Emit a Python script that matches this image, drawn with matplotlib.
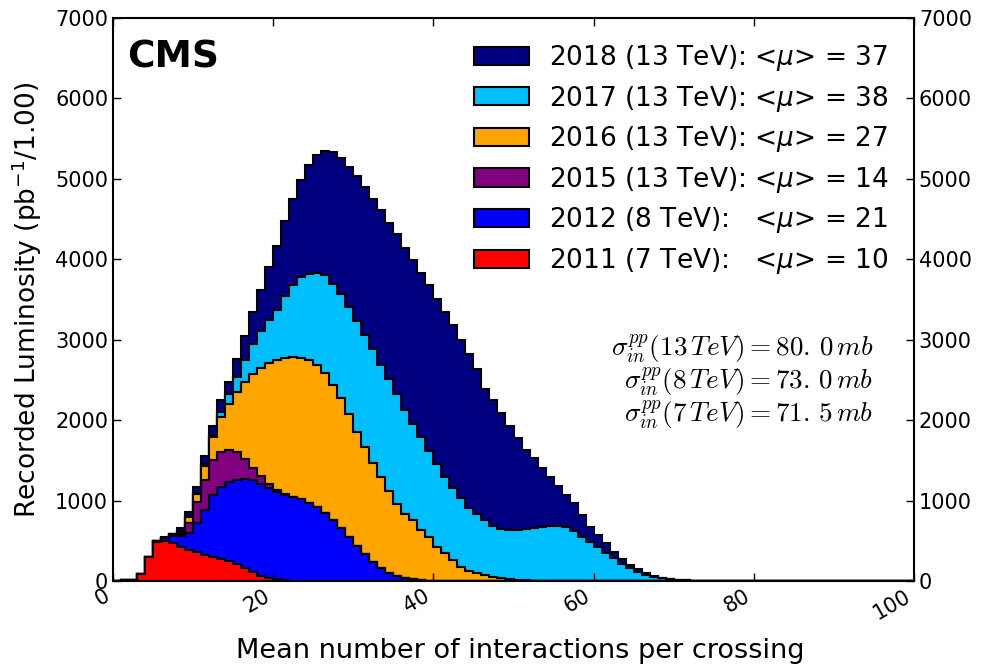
import numpy as np
import matplotlib
matplotlib.use("Agg")
from matplotlib import pyplot as plt

# recorded luminosity per pileup bin (pb^-1), bins of width 1 starting at 0
lumi_2011 = [0, 8, 15, 90, 300, 490, 500, 468, 427, 385, 365, 327, 302, 273, 244, 211,
             162, 109, 68, 41, 21, 10, 5, 2]
lumi_2012 = [0, 0, 0, 0, 0, 10, 30, 97, 133, 208, 352, 556, 767, 900, 991, 1045, 1102,
             1141, 1138, 1111, 1090, 1059, 1035, 1013, 974, 924, 849, 758, 655, 543, 435,
             336, 240, 158, 95, 62, 33, 20, 10, 5, 2]
lumi_2015 = [0, 0, 0, 0, 0, 0, 5, 10, 30, 124, 269, 373, 435, 435, 390, 344, 256, 160,
             94, 48, 19, 11, 5, 3, 2, 1]
lumi_2016 = [0, 0, 0, 0, 0, 0, 5, 5, 25, 83, 99, 174, 283, 427, 575, 750, 950, 1160,
             1350, 1510, 1620, 1697, 1744, 1755, 1770, 1761, 1734, 1680, 1617, 1534, 1423,
             1327, 1224, 1132, 1030, 900, 805, 735, 625, 548, 427, 354, 263, 180, 125, 95,
             70, 52, 38, 27, 18, 11, 6, 3, 1]
lumi_2017 = [0, 0, 0, 0, 0, 0, 0, 2, 10, 5, 10, 20, 28, 70, 130, 190, 280, 380, 460, 540,
             619, 766, 891, 1011, 1076, 1147, 1218, 1254, 1296, 1333, 1378, 1396, 1416,
             1396, 1382, 1366, 1292, 1192, 1151, 1063, 1026, 943, 889, 848, 780, 735, 688,
             632, 605, 607, 616, 632, 649, 672, 687, 688, 668, 626, 551, 489, 419, 344, 282,
             211, 158, 116, 75, 54, 33, 20, 12, 7, 4, 2, 1]
lumi_2018 = [0, 0, 0, 0, 0, 0, 10, 8, 38, 49, 70, 104, 116, 145, 140, 220, 300, 390, 510,
             650, 791, 937, 1066, 1202, 1355, 1464, 1545, 1638, 1687, 1742, 1800, 1836,
             1870, 1923, 1948, 1989, 2014, 2039, 2046, 2064, 2047, 2052, 2031, 1968, 1914,
             1810, 1625, 1566, 1450, 1293, 1140, 986, 870, 726, 601, 493, 401, 340, 270,
             186, 153, 125, 82, 59, 41, 29, 21, 8, 8, 5, 2, 2, 2, 2, 2, 2, 1, 1, 1]

labels = ['2011 (7 TeV):   <$\\mu$> = 10',
          '2012 (8 TeV):   <$\\mu$> = 21',
          '2015 (13 TeV): <$\\mu$> = 14',
          '2016 (13 TeV): <$\\mu$> = 27',
          '2017 (13 TeV): <$\\mu$> = 38',
          '2018 (13 TeV): <$\\mu$> = 37']
colors = ['#ff0000', '#0000ff', '#800080', '#ffa500', '#00bfff', '#000080']
xsec_lines = [r'$\sigma^{pp}_{in}(13\,TeV) = 80.\,0\,mb$',
              r'$\sigma^{pp}_{in}(8\,TeV) = 73.\,0\,mb$',
              r'$\sigma^{pp}_{in}(7\,TeV) = 71.\,5\,mb$']

nbins = 100
edges = np.arange(0, nbins + 1)
centers = edges[:-1] + 0.5
series = [lumi_2011, lumi_2012, lumi_2015, lumi_2016, lumi_2017, lumi_2018]
weights = [np.pad(np.array(s, dtype=float), (0, nbins - len(s))) for s in series]

fig = plt.figure(figsize=(9.81, 6.66), dpi=100)
ax = fig.add_axes([0.1152, 0.1276, 0.8165, 0.8454])

n, b, patches = ax.hist([centers] * 6, bins=edges, weights=weights, stacked=True,
                        histtype='stepfilled', color=colors, edgecolor='black',
                        linewidth=1.5)

ax.set_xlim(0, 100)
ax.set_ylim(0, 7000)
ax.set_xticks(np.arange(0, 101, 20))
ax.set_yticks(np.arange(0, 7001, 1000))
ax.tick_params(direction='in', top=True, right=True, labelright=True,
               length=6, width=1, labelsize=15)
for lab in ax.get_xticklabels():
    lab.set_rotation(30)
    lab.set_ha('right')
for sp in ax.spines.values():
    sp.set_linewidth(1.5)

ax.set_xlabel('Mean number of interactions per crossing', fontsize=19.5, labelpad=11)
ax.xaxis.label.set_x(0.509)
ax.set_ylabel('Recorded Luminosity (pb$^{-1}$/1.00)', fontsize=19, labelpad=8)

ax.text(0.018, 0.962, 'CMS', transform=ax.transAxes, fontsize=27, fontweight='bold',
        va='top', ha='left')

handles = [p[0] for p in patches]
ax.legend(handles[::-1], labels[::-1], loc='upper right', frameon=False, fontsize=19,
          handlelength=2.1, handleheight=0.68, handletextpad=0.76, labelspacing=0.40,
          borderaxespad=0.55)

for i, line in enumerate(xsec_lines):
    ax.text(0.949, 0.411 - i * 0.058, line, transform=ax.transAxes, ha='right',
            va='center', fontsize=19.5, math_fontfamily='cm')

fig.savefig('out.png', dpi=100)
